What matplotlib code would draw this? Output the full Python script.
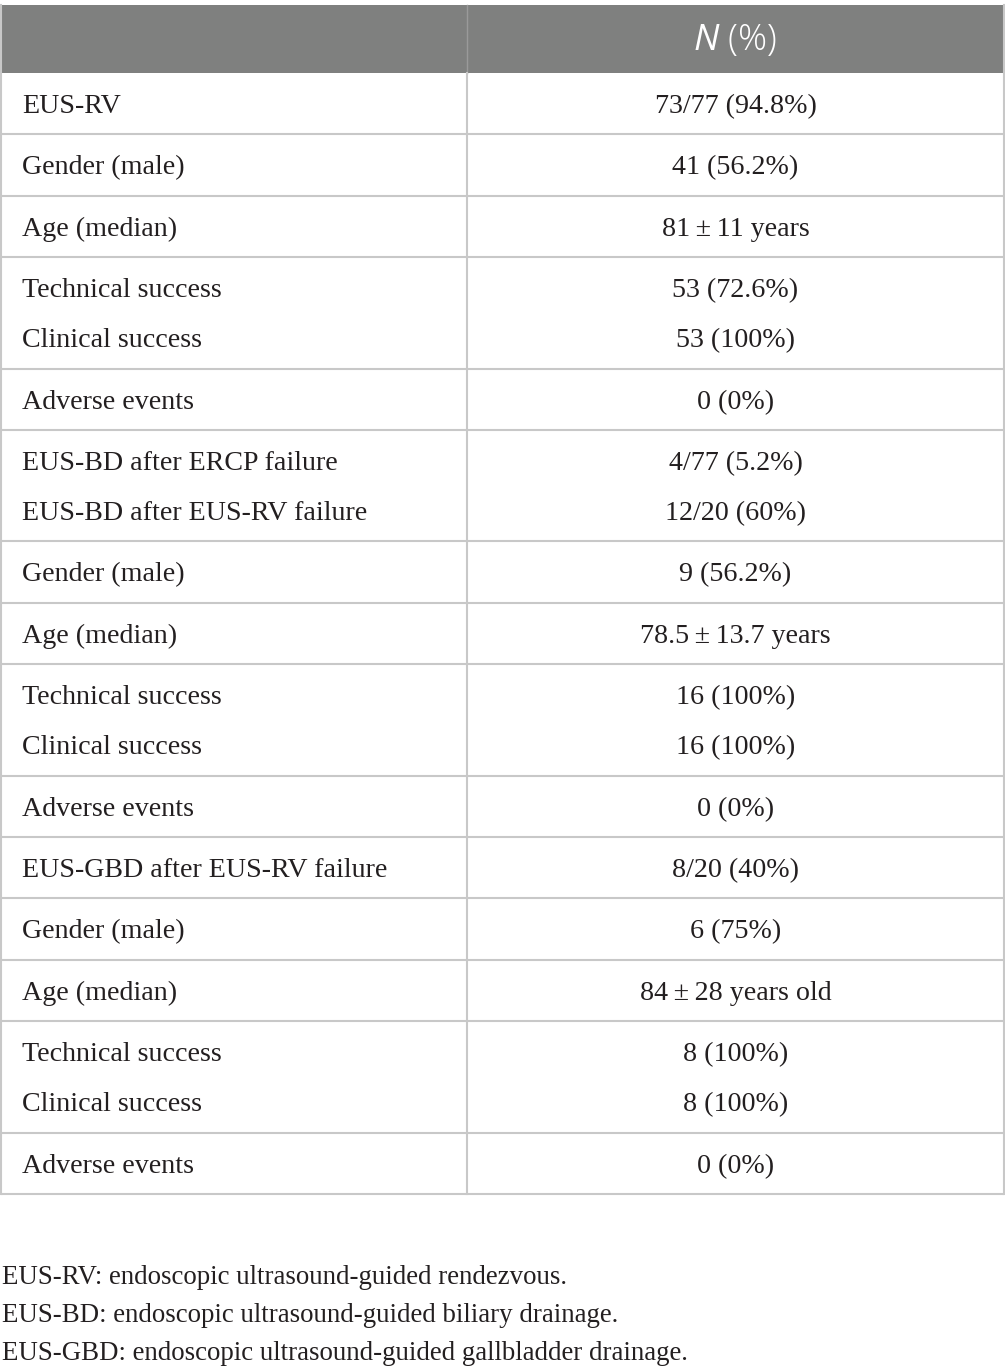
import matplotlib
matplotlib.use("Agg")
import matplotlib.pyplot as plt

header = r"$\mathit{N}$ (%)"
row_labels = [
    ["EUS-RV"],
    ["Gender (male)"],
    ["Age (median)"],
    ["Technical success", "Clinical success"],
    ["Adverse events"],
    ["EUS-BD after ERCP failure", "EUS-BD after EUS-RV failure"],
    ["Gender (male)"],
    ["Age (median)"],
    ["Technical success", "Clinical success"],
    ["Adverse events"],
    ["EUS-GBD after EUS-RV failure"],
    ["Gender (male)"],
    ["Age (median)"],
    ["Technical success", "Clinical success"],
    ["Adverse events"],
]
row_values = [
    ["73/77 (94.8%)"],
    ["41 (56.2%)"],
    ["81\u2009±\u200911 years"],
    ["53 (72.6%)", "53 (100%)"],
    ["0 (0%)"],
    ["4/77 (5.2%)", "12/20 (60%)"],
    ["9 (56.2%)"],
    ["78.5\u2009±\u200913.7 years"],
    ["16 (100%)", "16 (100%)"],
    ["0 (0%)"],
    ["8/20 (40%)"],
    ["6 (75%)"],
    ["84\u2009±\u200928 years old"],
    ["8 (100%)", "8 (100%)"],
    ["0 (0%)"],
]
footnotes = [
    "EUS-RV: endoscopic ultrasound-guided rendezvous.",
    "EUS-BD: endoscopic ultrasound-guided biliary drainage.",
    "EUS-GBD: endoscopic ultrasound-guided gallbladder drainage.",
]

plt.rcParams["mathtext.fontset"] = "custom"
plt.rcParams["mathtext.it"] = "Open Sans:italic"
plt.rcParams["mathtext.rm"] = "Open Sans"

W, H = 1005, 1371
fig = plt.figure(figsize=(W / 100, H / 100), dpi=100)
ax = fig.add_axes([0, 0, 1, 1])
ax.set_xlim(0, W)
ax.set_ylim(H, 0)
ax.axis("off")

serif = ["Liberation Serif", "DejaVu Serif"]
fs = 20.2
fs_note = 19.4
txt_col = "#231f20"
line_col = "#c8c8c8"
x0, xdiv, x1 = 1, 467, 1004
top, head_bot = 5, 73
single_h, line_gap = 61.4, 50

ax.add_patch(plt.Rectangle((x0, top), x1 - x0, head_bot - top, color="#7f807f", lw=0))
ax.plot([xdiv, xdiv], [top, head_bot], color="#9a9a9a", lw=1)
ax.text((xdiv + x1) / 2, (top + head_bot) / 2 + 1, header, ha="center", va="center",
        color="white", fontsize=26, family="Open Sans", fontweight="light")

y = head_bot
bounds = [y]
for labs, vals in zip(row_labels, row_values):
    n = len(labs)
    h = single_h + (n - 1) * line_gap
    yc0 = y + single_h / 2
    for k, (lab, val) in enumerate(zip(labs, vals)):
        yy = yc0 + k * line_gap
        ax.text(22, yy, lab, ha="left", va="center_baseline", fontsize=fs, family=serif, color=txt_col)
        ax.text((xdiv + x1) / 2, yy, val, ha="center", va="center_baseline", fontsize=fs, family=serif, color=txt_col)
    y += h
    bounds.append(y)

for b in bounds[1:]:
    ax.plot([x0, x1], [b, b], color=line_col, lw=1.5, solid_capstyle="butt")
ax.plot([x0, x0], [top, bounds[-1]], color=line_col, lw=1.5)
ax.plot([x1, x1], [top, bounds[-1]], color=line_col, lw=1.5)
ax.plot([xdiv, xdiv], [head_bot, bounds[-1]], color=line_col, lw=1.5)

for i, t in enumerate(footnotes):
    ax.text(2, 1274 + i * 38, t, ha="left", va="center_baseline", fontsize=fs_note, family=serif, color=txt_col)

fig.savefig("out.png", dpi=100)
